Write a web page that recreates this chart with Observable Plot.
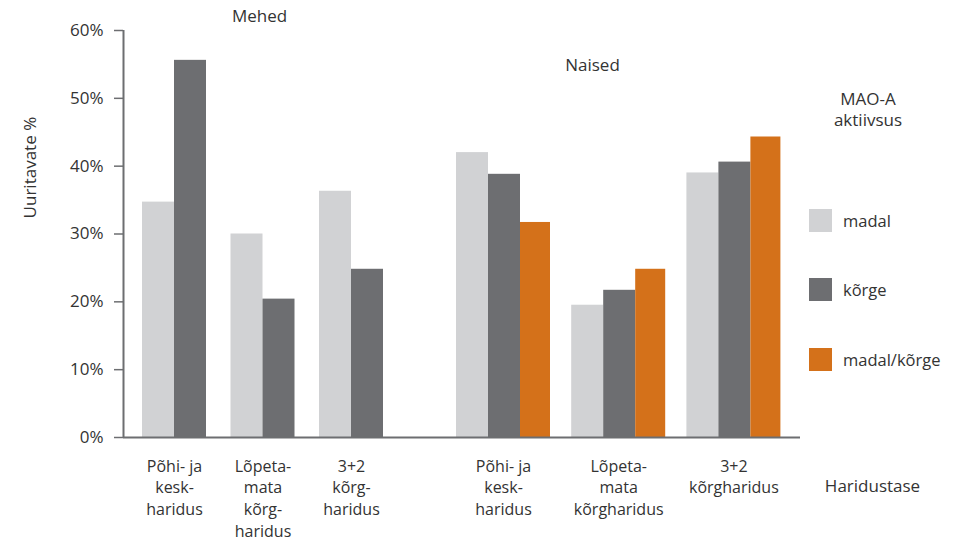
<!DOCTYPE html>
<html>
<head>
<meta charset="utf-8">
<script src="https://cdn.jsdelivr.net/npm/d3@7"></script>
<script src="https://cdn.jsdelivr.net/npm/@observablehq/plot@0.6"></script>
<style>
  html, body { margin: 0; padding: 0; background: #fff; }
  #wrap { position: relative; width: 966px; height: 541px; font-family: "Open Sans", sans-serif; color: #333; }
  #legend-title { position: absolute; left: 808px; width: 120px; top: 88px; text-align: center; font-size: 17px; line-height: 21px; }
  .lg-item { position: absolute; left: 809px; height: 23px; display: flex; align-items: center; font-size: 16.5px; }
  .lg-sw { width: 23px; height: 23px; margin-right: 11px; }
</style>
</head>
<body>
<div id="wrap"></div>
<script>
// ---- data ----
const panels = ["Mehed", "Naised"];
const series = ["madal", "kõrge", "madal/kõrge"];
const seriesColors = ["#d1d2d4", "#6d6e71", "#d4711a"];
const mehedCategories = ["Põhi- ja\nkesk-\nharidus", "Lõpeta-\nmata\nkõrg-\nharidus", "3+2\nkõrg-\nharidus"];
const naisedCategories = ["Põhi- ja\nkesk-\nharidus", "Lõpeta-\nmata\nkõrgharidus", "3+2\nkõrgharidus"];
const mehedMadal = [34.7, 30.0, 36.3];
const mehedKorge = [55.6, 20.4, 24.8];
const naisedMadal = [42.0, 19.5, 39.0];
const naisedKorge = [38.8, 21.7, 40.6];
const naisedMadalKorge = [31.7, 24.8, 44.3];
const yTicks = [0, 10, 20, 30, 40, 50, 60];
const yLabel = "Uuritavate %";
const xLabel = "Haridustase";
const legendTitle = "MAO-A\naktiivsus";

// ---- layout (x in pixel-like units from the y-axis) ----
const layout = {
  Mehed: { start: 19, step: 88.5, barW: [32, 32, 32] },
  Naised: { start: 333, step: 115.2, barW: [32, 32, 30] }
};
const panelSeries = {
  Mehed: [mehedMadal, mehedKorge],
  Naised: [naisedMadal, naisedKorge, naisedMadalKorge]
};
const panelCats = { Mehed: mehedCategories, Naised: naisedCategories };

const bars = [];
const labels = [];
for (const p of panels) {
  const L = layout[p];
  const cats = panelCats[p];
  const sers = panelSeries[p];
  cats.forEach((c, g) => {
    let x = L.start + g * L.step;
    const x0 = x;
    sers.forEach((vals, s) => {
      bars.push({ panel: p, category: c, series: series[s], value: vals[g], x1: x, x2: x + L.barW[s] });
      x += L.barW[s];
    });
    labels.push({ text: c, x: (x0 + x) / 2 });
  });
}

const chart = Plot.plot({
  width: 966,
  height: 541,
  marginLeft: 123,
  marginRight: 166,
  marginTop: 30,
  marginBottom: 104,
  style: { fontFamily: "Open Sans, sans-serif", fontSize: "17px", color: "#333", background: "#fff", overflow: "visible" },
  x: { domain: [0, 677], axis: null },
  y: { domain: [0, 60], axis: null },
  color: { domain: series, range: seriesColors },
  marks: [
    Plot.rectY(bars, { x1: "x1", x2: "x2", y: "value", fill: "series" }),
    Plot.axisY({ ticks: yTicks, tickFormat: d => d + "%", tickSize: 9, tickPadding: 11,
                 stroke: "#6d6e71", strokeWidth: 1.5, fill: "#333", fontSize: 17, label: null }),
    Plot.ruleX([0], { y1: 0, y2: 60, stroke: "#6d6e71", strokeWidth: 2 }),
    Plot.ruleY([0], { stroke: "#6d6e71", strokeWidth: 2.2 }),
    Plot.text(labels, { x: "x", y: () => 0, text: "text", dy: 19, lineAnchor: "top", lineHeight: 1.35,
                        fontSize: 16, fill: "#333" }),
    Plot.text([xLabel], { x: () => 749, y: () => 0, text: d => d, dy: 49, fontSize: 17, fill: "#333" }),
    Plot.text(["Mehed"], { x: () => 136, y: () => 62, text: d => d, fontSize: 17, fill: "#333" }),
    Plot.text(["Naised"], { x: () => 469, y: () => 54.8, text: d => d, fontSize: 17, fill: "#333" }),
    Plot.text([yLabel], { frameAnchor: "left", y: () => 32.3, text: d => d, rotate: -90, dx: -93,
                          fontSize: 17, fill: "#333" })
  ]
});

const wrap = document.getElementById("wrap");
wrap.appendChild(chart);

// legend
const t = document.createElement("div");
t.id = "legend-title";
t.innerHTML = legendTitle.split("\n").join("<br>");
wrap.appendChild(t);
const legendTops = [209, 278, 348];
series.forEach((s, i) => {
  const item = document.createElement("div");
  item.className = "lg-item";
  item.style.top = legendTops[i] + "px";
  const sw = document.createElement("div");
  sw.className = "lg-sw";
  sw.style.background = seriesColors[i];
  item.appendChild(sw);
  const lab = document.createElement("span");
  lab.textContent = s;
  item.appendChild(lab);
  wrap.appendChild(item);
});
</script>
</body>
</html>
